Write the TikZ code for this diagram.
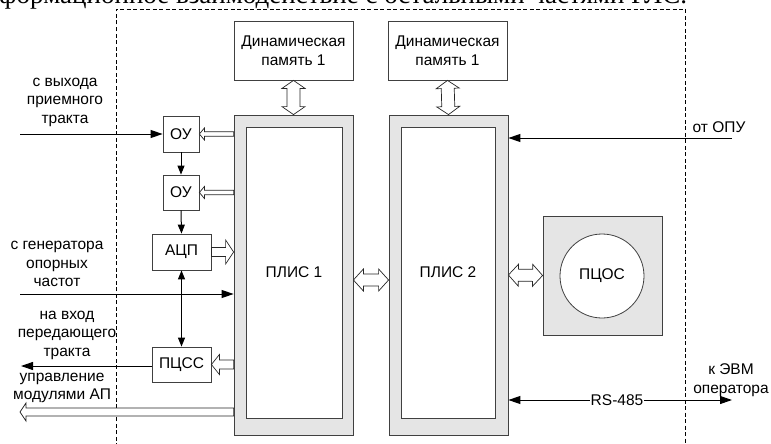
\documentclass[tikz,border=0pt]{standalone}
\usepackage{fontspec}
\setmainfont{Liberation Sans}
\newfontfamily\capserif{Liberation Serif}
\usetikzlibrary{arrows.meta,calc}

\newcommand\lbl{\fontsize{15.5}{18.5}\selectfont}

\tikzset{
  box/.style={draw=black!75, line width=0.8pt, fill=white, inner sep=0pt, align=center, font=\lbl},
  chip/.style={draw=black!75, line width=0.8pt, fill=black!10, inner sep=0pt},
  lab/.style={align=center, font=\lbl, inner sep=0pt},
  sig/.style={line width=1pt, -{Triangle[length=12pt,width=8pt]}},
  sigsmall/.style={line width=1pt, -{Triangle[length=9pt,width=7pt]}},
  sigboth/.style={line width=1pt, {Triangle[length=12pt,width=8pt]}-{Triangle[length=12pt,width=8pt]}},
  hollow/.style={draw=black!85, line width=0.7pt, fill=white},
  frame/.style={dash pattern=on 4pt off 2.5pt, line width=0.8pt},
}

% hollow bus arrow: from, to, shaft half-width, head half-width, head length
\newcommand\busarrow[5]{%
  \path[hollow] let \p1=(#1), \p2=(#2),
      \n1={veclen(\x2-\x1,\y2-\y1)}, \n2={atan2(\y2-\y1,\x2-\x1)} in
    {[shift={(\p1)}, rotate=\n2]
      (0pt,-#3pt) -- (\n1-#5pt,-#3pt) -- (\n1-#5pt,-#4pt) -- (\n1+0pt,0pt)
      -- (\n1-#5pt,#4pt) -- (\n1-#5pt,#3pt) -- (0pt,#3pt) -- cycle};
}
% two-headed hollow bus arrow
\newcommand\dbusarrow[5]{%
  \path[hollow] let \p1=(#1), \p2=(#2),
      \n1={veclen(\x2-\x1,\y2-\y1)}, \n2={atan2(\y2-\y1,\x2-\x1)} in
    {[shift={(\p1)}, rotate=\n2]
      (0pt,0pt) -- (#5pt,-#4pt) -- (#5pt,-#3pt) -- (\n1-#5pt,-#3pt) -- (\n1-#5pt,-#4pt)
      -- (\n1+0pt,0pt) -- (\n1-#5pt,#4pt) -- (\n1-#5pt,#3pt) -- (#5pt,#3pt) -- (#5pt,#4pt) -- cycle};
}

\begin{document}
\begin{tikzpicture}[x=1pt,y=-1pt]
\useasboundingbox (0,0) rectangle (771,444);
\clip (0,0) rectangle (771,444);

% caption line running above the figure
\node[anchor=base west, inner sep=0pt, font=\capserif\fontsize{27}{31}\selectfont] (hdr) at (-1,4)
  {формационное взаимодействие с остальными частями РЛС.};

% unit boundary
\draw[frame] (116,460) -- (116,9) -- (685,9) -- (685,460);

% memories
\node[box, minimum width=119pt, minimum height=59pt] (mem1) at (293.5,50.5) {Динамическая\\память 1};
\node[box, minimum width=119pt, minimum height=59pt] (mem2) at (447.5,50.5) {Динамическая\\память 1};

% FPGAs
\node[chip, minimum width=119pt, minimum height=320pt] (plis1) at (293.5,275) {};
\node[box, minimum width=96pt, minimum height=291pt] (core1) at (294,272.5) {ПЛИС 1};
\node[chip, minimum width=119pt, minimum height=320pt] (plis2) at (448.5,275) {};
\node[box, minimum width=94pt, minimum height=291pt] (core2) at (448,272.5) {ПЛИС 2};

% DSP processor
\node[chip, minimum width=119pt, minimum height=119pt] (dsp) at (602.5,275.5) {};
\node[box, circle, minimum size=84pt] (dspc) at (602,276) {ПЦОС};

% front-end blocks
\node[box, minimum width=36pt, minimum height=36pt] (ou1) at (181,134) {ОУ};
\node[box, minimum width=36pt, minimum height=35pt] (ou2) at (181,192.5) {ОУ};
\node[box, minimum width=59pt, minimum height=36pt] (adc) at (181.5,252) {АЦП};
\node[box, minimum width=59pt, minimum height=35pt] (pcss) at (181.5,364.5) {ПЦСС};

% external ends
\coordinate (rxin) at (20,134);
\coordinate (genin) at (20,294);
\coordinate (txout) at (21,366);
\coordinate (ctl) at (20,412);
\coordinate (opu) at (732,138);
\coordinate (evm) at (732,400);

% signal lines
\draw[sig] (rxin) -- (ou1.west);
\draw[sigsmall] (ou1.south) -- (ou2.north);
\draw[sigsmall] (ou2.south) -- (adc.north);
\draw[sig] (genin) -- (plis1.west |- genin);
\draw[sigsmall, {Triangle[length=9pt,width=7pt]}-{Triangle[length=9pt,width=7pt]}] (adc.south) -- (pcss.north);
\draw[sig] (pcss.west |- txout) -- (txout);
\draw[sig] (opu) -- (plis2.east |- opu);
\draw[sigboth] (plis2.east |- evm) -- (evm);
\node[lab, fill=white, inner xsep=1pt] (rs) at (617,400) {RS-485};

% buses
\busarrow{plis1.west |- ou1.east}{ou1.east}{2.2}{6}{5}
\busarrow{plis1.west |- ou2.east}{ou2.east}{2.2}{6}{5}
\busarrow{adc.east}{plis1.west |- adc.east}{4.5}{12}{8}
\busarrow{plis1.west |- pcss.east}{pcss.east}{4.5}{10}{8}
\busarrow{plis1.west |- ctl}{ctl}{4}{9}{6}
\dbusarrow{mem1.south}{plis1.north}{6.5}{11.5}{8}
\dbusarrow{mem2.south}{plis2.north}{6.5}{11.5}{8}
\coordinate (lnk) at ($(plis1.east)+(0,5)$);
\dbusarrow{lnk}{plis2.west |- lnk}{6}{11}{10}
\dbusarrow{plis2.east}{dsp.west}{6}{11}{10}

% labels
\node[lab] (l1) at (65,102) {с выхода\\приемного\\тракта};
\node[lab] (l2) at (57,264) {с генератора\\опорных\\частот};
\node[lab] (l3) at (67,335) {на вход\\передающего\\тракта};
\node[lab] (l4) at (62,388) {управление\\модулями АП};
\node[lab] (l5) at (719,127) {от ОПУ};
\node[lab] (l6) at (731,380) {к ЭВМ\\оператора};
\end{tikzpicture}
\end{document}
